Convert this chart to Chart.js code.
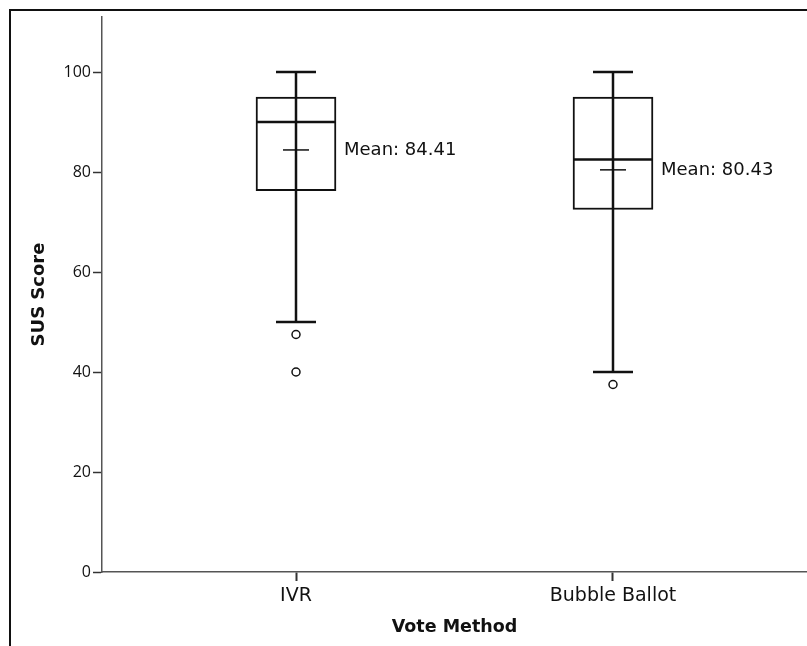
<!DOCTYPE html>
<html>
<head>
<meta charset="utf-8">
<script src="https://cdn.jsdelivr.net/npm/chart.js@4.4.1/dist/chart.umd.min.js"></script>
<style>
  html, body { margin: 0; padding: 0; background: #fff; overflow: hidden; }
  #frame { position: absolute; left: 9px; top: 9px; width: 2000px; height: 2000px;
           border-left: 2px solid #111; border-top: 2px solid #111; }
  #boxChart { position: absolute; left: 0; top: 0; }
</style>
</head>
<body>
<div id="frame"></div>
<canvas id="boxChart" width="807" height="646"></canvas>
<script>
// box plot values
const categories = ['IVR', 'Bubble Ballot'];
const whiskerLow = [50, 40];
const q1 = [76.25, 72.5];
const median = [90, 82.5];
const q3 = [95, 95];
const whiskerHigh = [100, 100];
const means = [84.41, 80.43];
const outliers = [[47.5, 40], [37.5]];
const yTicks = [0, 20, 40, 60, 80, 100];

const ink = '#111';

// build the datasets from the arrays above
const boxData = categories.map((c, i) => ({ x: i + 1, y: [q1[i], q3[i]] }));
const whiskerData = [];
categories.forEach((c, i) => {
    if (i > 0) whiskerData.push({ x: i + 0.5, y: null });
    whiskerData.push({ x: i + 1, y: whiskerLow[i] });
    whiskerData.push({ x: i + 1, y: whiskerHigh[i] });
});
const capData = [];
categories.forEach((c, i) => {
    capData.push({ x: i + 1, y: whiskerLow[i] });
    capData.push({ x: i + 1, y: whiskerHigh[i] });
});
const medianData = categories.map((c, i) => ({ x: i + 1, y: median[i] }));
const meanData = categories.map((c, i) => ({ x: i + 1, y: means[i] }));
const outlierData = [];
outliers.forEach((list, i) => list.forEach(v => outlierData.push({ x: i + 1, y: v })));

// writes "Mean: xx.xx" next to each box
const meanLabels = {
    id: 'meanLabels',
    afterDatasetsDraw(chart) {
        const ctx = chart.ctx;
        const xs = chart.scales.x, ys = chart.scales.y;
        ctx.save();
        ctx.fillStyle = ink;
        ctx.font = '18px "DejaVu Sans"';
        ctx.textBaseline = 'middle';
        ctx.textAlign = 'left';
        means.forEach((m, i) => {
            ctx.fillText('Mean: ' + m.toFixed(2), xs.getPixelForValue(i + 1) + 48, ys.getPixelForValue(m));
        });
        ctx.restore();
    }
};

const config = {
    type: 'bar',
    data: {
        datasets: [
            {
                type: 'line', data: outlierData, showLine: false, order: 1,
                pointStyle: 'circle', pointRadius: 4, pointBorderWidth: 1.5,
                pointBackgroundColor: '#fff', pointBorderColor: ink
            },
            {
                type: 'line', data: meanData, showLine: false, order: 2,
                pointStyle: 'line', pointRadius: 13, pointBorderWidth: 1.5, pointBorderColor: ink
            },
            {
                type: 'line', data: medianData, showLine: false, order: 3,
                pointStyle: 'line', pointRadius: 39, pointBorderWidth: 2.5, pointBorderColor: ink
            },
            {
                type: 'line', data: capData, showLine: false, order: 3,
                pointStyle: 'line', pointRadius: 20, pointBorderWidth: 2.5, pointBorderColor: ink
            },
            {
                type: 'line', data: whiskerData, order: 4, spanGaps: false,
                borderColor: ink, borderWidth: 2.5, pointRadius: 0
            },
            {
                type: 'bar', data: boxData, order: 5,
                backgroundColor: '#fff', borderColor: ink, borderWidth: 2,
                borderSkipped: false, barThickness: 80
            }
        ]
    },
    options: {
        responsive: false,
        animation: false,
        layout: { autoPadding: false, padding: { top: 17, left: 0, right: 0, bottom: 0 } },
        plugins: {
            legend: { display: false },
            tooltip: { enabled: false }
        },
        scales: {
            x: {
                type: 'linear',
                offset: false,
                min: 0.388,
                max: 2.612,
                afterFit: s => { s.height = 74; s.paddingLeft = 0; s.paddingRight = 0; },
                afterBuildTicks: s => { s.ticks = categories.map((c, i) => ({ value: i + 1 })); },
                grid: { offset: false, drawOnChartArea: false, drawTicks: true, tickLength: 9, tickWidth: 2, tickColor: '#333' },
                border: { display: true, color: '#555', width: 1.5 },
                ticks: {
                    color: ink, padding: 4,
                    font: { family: 'DejaVu Sans', size: 19 },
                    callback: v => categories[v - 1]
                },
                title: {
                    display: true, text: 'Vote Method', color: ink,
                    font: { family: 'DejaVu Sans', size: 17.5, weight: 'bold' },
                    padding: { top: 0, bottom: 8.5 }
                }
            },
            y: {
                min: 0,
                max: 111,
                afterFit: s => { s.width = 102; },
                afterBuildTicks: s => { s.ticks = yTicks.map(v => ({ value: v })); },
                grid: { drawOnChartArea: false, drawTicks: true, tickLength: 9, tickWidth: 1.5, tickColor: '#333' },
                border: { display: true, color: '#555', width: 1.5 },
                ticks: {
                    color: ink, padding: 2,
                    font: { family: 'Open Sans', size: 16 }
                },
                title: {
                    display: true, text: 'SUS Score', color: ink,
                    font: { family: 'DejaVu Sans', size: 18, weight: 'bold' },
                    padding: { top: 29, bottom: 0 }
                }
            }
        }
    },
    plugins: [meanLabels]
};

new Chart(document.getElementById('boxChart'), config);
</script>
</body>
</html>
